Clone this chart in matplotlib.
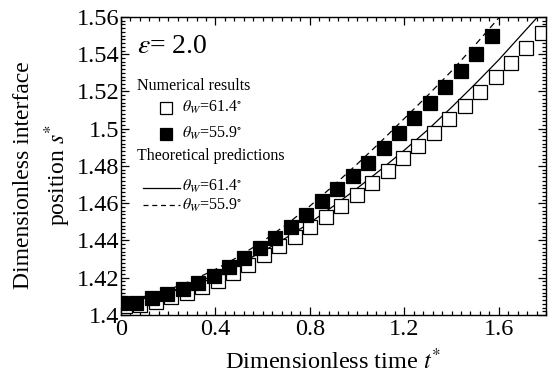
import numpy as np
import matplotlib
matplotlib.use('Agg')
import matplotlib.pyplot as plt
from matplotlib.ticker import MultipleLocator, FuncFormatter
from matplotlib.lines import Line2D

plt.rcParams['font.family'] = 'Liberation Serif'
plt.rcParams['mathtext.fontset'] = 'stix'

# numerical results, theta_W = 61.4 deg (open squares)
t_open = [0.017, 0.082, 0.148, 0.213, 0.279, 0.344, 0.409, 0.475, 0.540, 0.606,
          0.671, 0.736, 0.802, 0.867, 0.933, 0.998, 1.063, 1.129, 1.194, 1.260,
          1.325, 1.390, 1.456, 1.521, 1.587, 1.652, 1.717, 1.783]
s_open = [1.4048, 1.4055, 1.4072, 1.4094, 1.4120, 1.4150, 1.4185, 1.4224, 1.4268, 1.4322,
          1.4372, 1.4420, 1.4474, 1.4528, 1.4585, 1.4644, 1.4707, 1.4773, 1.4841, 1.4909,
          1.4979, 1.5052, 1.5124, 1.5199, 1.5276, 1.5351, 1.5432, 1.5512]

# numerical results, theta_W = 55.9 deg (filled squares)
t_fill = [0.0, 0.065, 0.131, 0.196, 0.262, 0.327, 0.392, 0.458, 0.523, 0.589,
          0.654, 0.719, 0.785, 0.850, 0.916, 0.981, 1.046, 1.112, 1.177, 1.243,
          1.308, 1.373, 1.439, 1.504, 1.570]
s_fill = [1.4063, 1.4066, 1.4090, 1.4111, 1.4140, 1.4173, 1.4211, 1.4256, 1.4304, 1.4358,
          1.4412, 1.4471, 1.4537, 1.4610, 1.4675, 1.4746, 1.4818, 1.4895, 1.4976, 1.5056,
          1.5140, 1.5226, 1.5312, 1.5401, 1.5498]

# theoretical predictions
t_theo = [0.0, 0.1, 0.2, 0.3, 0.4, 0.5, 0.6, 0.7, 0.8, 0.9,
          1.0, 1.1, 1.2, 1.3, 1.4, 1.5, 1.6, 1.7, 1.8]
s_theo_614 = [1.408, 1.4095, 1.4125, 1.4165, 1.4215, 1.4275, 1.434, 1.4415, 1.4495, 1.4585,
              1.468, 1.478, 1.4885, 1.4995, 1.5115, 1.524, 1.537, 1.551, 1.565]
s_theo_559 = [1.408, 1.410, 1.4135, 1.4185, 1.4245, 1.4315, 1.4395, 1.4485, 1.4585, 1.4695,
              1.481, 1.493, 1.5055, 1.518, 1.531, 1.545, 1.5595, 1.575, 1.59]

fig = plt.figure(figsize=(5.49, 3.82), dpi=100)
ax = fig.add_axes([0.2204, 0.1754, 0.7741, 0.7801])

ax.plot(t_theo, s_theo_614, '-', color='black', lw=0.9)
ax.plot(t_theo, s_theo_559, '--', color='black', lw=0.9, dashes=(5, 3.5))
ax.plot(t_open, s_open, 's', ms=10, mfc='white', mec='black', mew=0.9, ls='none')
ax.plot(t_fill, s_fill, 's', ms=10, mfc='black', mec='black', mew=0.9, ls='none')

ax.set_xlim(0, 1.8)
ax.set_ylim(1.4, 1.56)
ax.set_xticks([0, 0.4, 0.8, 1.2, 1.6])
ax.xaxis.set_minor_locator(MultipleLocator(0.04))
ax.yaxis.set_major_locator(MultipleLocator(0.02))
ax.yaxis.set_minor_locator(MultipleLocator(0.002))
fmt = FuncFormatter(lambda v, p: '%g' % round(v, 3))
ax.xaxis.set_major_formatter(fmt)
ax.yaxis.set_major_formatter(fmt)
ax.tick_params(which='both', direction='in', top=True, right=True, labelsize=17.5, width=0.9)
ax.tick_params(axis='x', which='major', length=6, pad=3)
ax.tick_params(axis='y', which='major', length=6, pad=1)
ax.tick_params(which='minor', length=3)
for sp in ax.spines.values():
    sp.set_linewidth(1.0)

ax.set_xlabel(r'Dimensionless time $t^{*}$', fontsize=17.5, labelpad=6)
ax.set_ylabel('Dimensionless interface\n' + r'position $s^{*}$', fontsize=17,
              linespacing=1.35)
ax.yaxis.set_label_coords(-0.113, 0.47)

# annotation and legend
ax.text(0.038, 0.902, r'$\varepsilon$= 2.0', transform=ax.transAxes, fontsize=20,
        va='center', ha='left')
ax.text(0.038, 0.770, 'Numerical results', transform=ax.transAxes, fontsize=11.5,
        va='center', ha='left')
ax.add_line(Line2D([0.106], [0.695], marker='s', ms=8, mfc='white', mec='black',
                   mew=0.9, transform=ax.transAxes))
ax.text(0.143, 0.695, r'$\theta_W$=61.4$^{\circ}$', transform=ax.transAxes,
        fontsize=11.5, va='center', ha='left')
ax.add_line(Line2D([0.106], [0.608], marker='s', ms=8, mfc='black', mec='black',
                   mew=0.9, transform=ax.transAxes))
ax.text(0.143, 0.608, r'$\theta_W$=55.9$^{\circ}$', transform=ax.transAxes,
        fontsize=11.5, va='center', ha='left')
ax.text(0.038, 0.533, 'Theoretical predictions', transform=ax.transAxes, fontsize=11.5,
        va='center', ha='left')
ax.add_line(Line2D([0.052, 0.138], [0.427, 0.427], color='black', lw=0.9,
                   transform=ax.transAxes))
ax.text(0.143, 0.430, r'$\theta_W$=61.4$^{\circ}$', transform=ax.transAxes,
        fontsize=11.5, va='center', ha='left')
ax.add_line(Line2D([0.052, 0.138], [0.369, 0.369], color='black', lw=0.9,
                   dashes=(4, 3), transform=ax.transAxes))
ax.text(0.143, 0.369, r'$\theta_W$=55.9$^{\circ}$', transform=ax.transAxes,
        fontsize=11.5, va='center', ha='left')

fig.savefig('out.png', dpi=100)
